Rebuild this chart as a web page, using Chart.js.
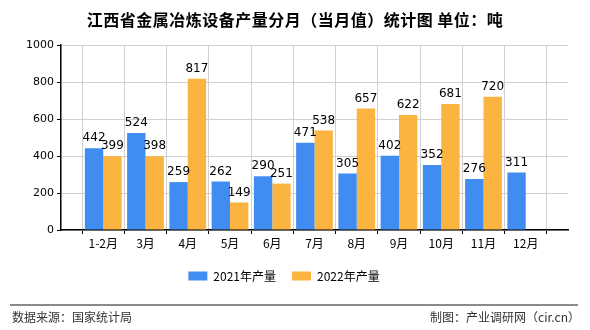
<!DOCTYPE html>
<html>
<head>
<meta charset="utf-8">
<script src="https://cdn.jsdelivr.net/npm/chart.js@4/dist/chart.umd.min.js"></script>
<style>
  body { margin: 0; background: #fff; }
  #wrap { position: relative; width: 590px; height: 330px; font-family: "Noto Sans CJK SC", sans-serif; }
  #title { position: absolute; left: 0; top: 7px; width: 590px; text-align: center; font-size: 16px; letter-spacing: 0.5px; font-weight: bold; color: #000; }
  #rule { position: absolute; left: 10px; top: 304px; width: 568px; height: 0; border-top: 2px solid #8a8a8a; }
  .foot { position: absolute; top: 308px; font-size: 12px; color: #333; }
  #src { left: 12px; }
  #maker { right: 10px; }
  canvas { position: absolute; left: 0; top: 0; }
</style>
</head>
<body>
<div id="wrap">
  <canvas id="chart" width="590" height="330"></canvas>
  <div id="title">江西省金属冶炼设备产量分月（当月值）统计图 单位：吨</div>
  <div id="rule"></div>
  <div class="foot" id="src">数据来源：国家统计局</div>
  <div class="foot" id="maker">制图：产业调研网（cir.cn）</div>
</div>
<script>
// ====================== Data ======================
const MONTHS = ["1-2月", "3月", "4月", "5月", "6月", "7月", "8月", "9月", "10月", "11月", "12月"];
const SALES_2021 = [442, 524, 259, 262, 290, 471, 305, 402, 352, 276, 311];
const SALES_2022 = [399, 398, 817, 149, 251, 538, 657, 622, 681, 720, null];
const Y_TICKS = [0, 200, 400, 600, 800, 1000];

// empty slots at both ends so the axis runs past the first and last month
const labels = [""].concat(MONTHS, [""]);
const pad = arr => [null].concat(arr, [null]);

// ====================== Value labels ======================
const valueLabels = {
  id: "valueLabels",
  afterDatasetsDraw(chart) {
    const ctx = chart.ctx;
    ctx.save();
    ctx.font = "12px 'DejaVu Sans', sans-serif";
    ctx.fillStyle = "#000";
    ctx.textAlign = "center";
    ctx.textBaseline = "bottom";
    chart.data.datasets.forEach((ds, i) => {
      chart.getDatasetMeta(i).data.forEach((bar, j) => {
        const v = ds.data[j];
        if (v == null) return;
        ctx.fillText(v, bar.x, bar.y - 4);
      });
    });
    ctx.restore();
  }
};

// ====================== Chart ======================
new Chart(document.getElementById("chart"), {
  type: "bar",
  data: {
    labels: labels,
    datasets: [
      { label: "2021年产量", data: pad(SALES_2021), backgroundColor: "#418cf0" },
      { label: "2022年产量", data: pad(SALES_2022), backgroundColor: "#fcb441" }
    ]
  },
  options: {
    responsive: false,
    animation: false,
    layout: { padding: { top: 45, right: 22, bottom: 38, left: 0 } },
    datasets: { bar: { barPercentage: 1, categoryPercentage: 0.87 } },
    plugins: {
      legend: {
        position: "bottom",
        labels: {
          boxWidth: 19, boxHeight: 9, padding: 16,
          color: "#000",
          font: { family: "'Noto Sans CJK SC', sans-serif", size: 12 }
        }
      },
      tooltip: { enabled: false }
    },
    scales: {
      x: {
        offset: false,
        grid: { color: "#d0d0d0", tickColor: "#000", tickLength: 4 },
        border: { color: "#000", width: 1.5 },
        ticks: {
          color: "#000", autoSkip: false, maxRotation: 0, padding: 2,
          font: { family: "'Noto Sans CJK SC', sans-serif", size: 12 }
        },
        afterFit: s => { s.height = 24; }
      },
      y: {
        min: 0, max: 1000,
        afterBuildTicks: s => { s.ticks = Y_TICKS.map(v => ({ value: v })); },
        grid: { color: "#d0d0d0", tickColor: "#000", tickLength: 4 },
        border: { color: "#000", width: 1.5 },
        ticks: {
          color: "#000", padding: 3,
          callback: v => String(v),
          font: { family: "'DejaVu Sans', sans-serif", size: 11 }
        },
        afterFit: s => { s.width = 61; }
      }
    }
  },
  plugins: [valueLabels]
});
</script>
</body>
</html>
